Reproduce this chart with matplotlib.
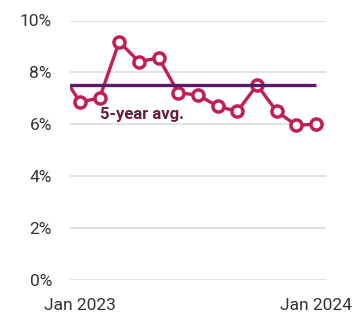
import matplotlib
matplotlib.use("Agg")
import matplotlib.pyplot as plt

# monthly rate, Dec 2022 .. Jan 2024 (Dec 2022 sits just outside the view)
months = ["Dec 2022", "Jan 2023", "Feb 2023", "Mar 2023", "Apr 2023", "May 2023",
          "Jun 2023", "Jul 2023", "Aug 2023", "Sep 2023", "Oct 2023", "Nov 2023",
          "Dec 2023", "Jan 2024"]
rate = [8.05, 6.86, 7.0, 9.18, 8.41, 8.56, 7.21, 7.12, 6.69, 6.49, 7.51, 6.49, 5.95, 6.0]
avg_5yr = 7.5
avg_label = "5-year avg."
y_ticks = [0, 2, 4, 6, 8, 10]
x_labels = {"Jan 2023": 1, "Jan 2024": 13}

red = "#C21E56"
purple = "#5A1A68"
label_col = "#6B1B3E"

plt.rcParams["font.family"] = ["Roboto", "DejaVu Sans"]

fig = plt.figure(figsize=(3.57, 3.12), dpi=100)
ax = fig.add_axes([70 / 357, 32.5 / 312, 256 / 357, 259 / 312])

x = list(range(len(rate)))
ax.plot(x, rate, color=red, lw=2.4, marker="o", ms=8, mfc="white",
        mec=red, mew=2.5, zorder=3, clip_on=True)
ax.plot([0.5, 13], [avg_5yr, avg_5yr], color=purple, lw=2.4, zorder=4,
        solid_capstyle="butt")
ax.text(2.03, 6.38, avg_label, color=label_col, fontsize=12, fontweight="bold",
        ha="left", va="center")

ax.set_xlim(0.5, 13.5)
ax.set_ylim(0, 10)
ax.set_yticks(y_ticks)
ax.set_yticklabels([f"{t}%" for t in y_ticks])
ax.set_xticks(list(x_labels.values()))
ax.set_xticklabels(list(x_labels.keys()))
ax.grid(axis="y", color="#dddddd", lw=1.2)
ax.set_axisbelow(True)
for s in ax.spines.values():
    s.set_visible(False)
ax.tick_params(axis="y", length=0, pad=13, labelsize=12.5, labelcolor="#333333")
ax.tick_params(axis="x", length=0, pad=13, labelsize=12.5, labelcolor="#333333")

fig.savefig("out.png", dpi=100)
